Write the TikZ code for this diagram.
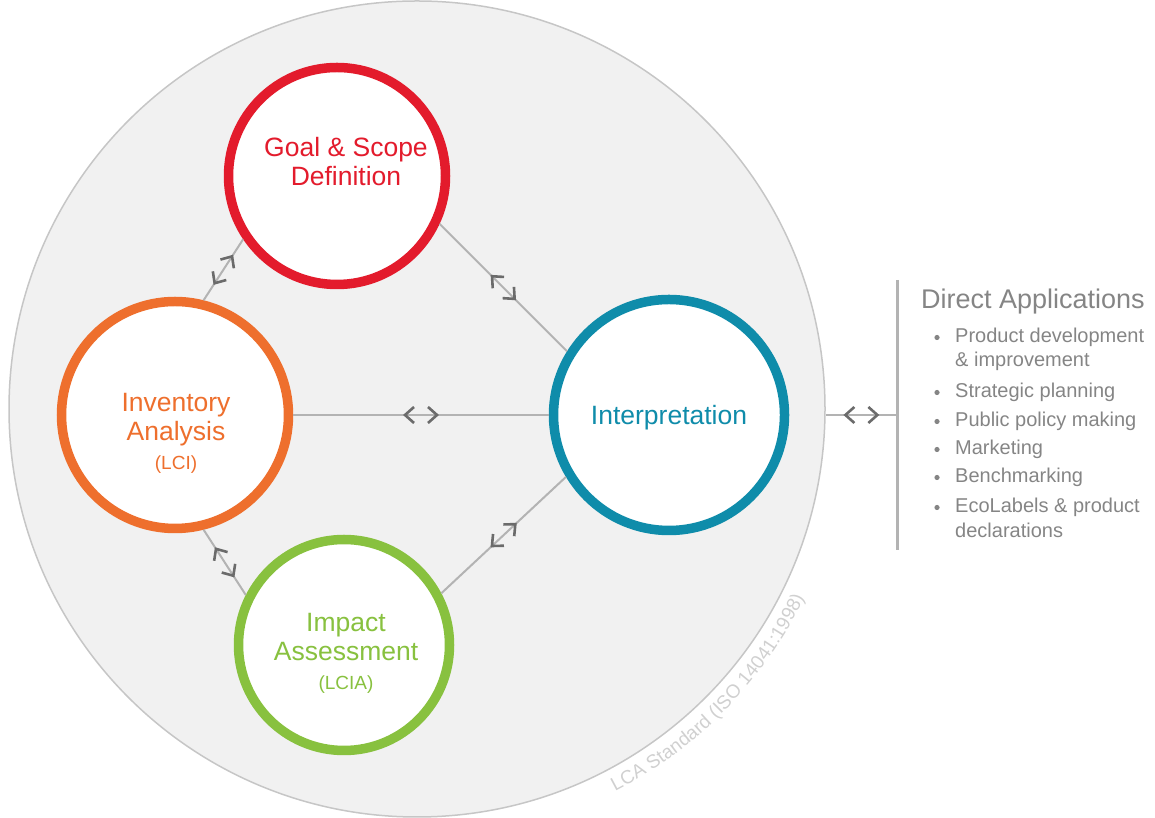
\documentclass[tikz,border=0pt]{standalone}
\usepackage{fontspec}
\setmainfont{Liberation Sans}
\usepackage{xcolor}
\usetikzlibrary{arrows,positioning,calc,decorations.markings,decorations.text}
\definecolor{goalred}{HTML}{E31B2C}
\definecolor{invorange}{HTML}{EE6F2D}
\definecolor{interpteal}{HTML}{0F8CAA}
\definecolor{impactgreen}{HTML}{88C13F}
\definecolor{lcafill}{HTML}{F1F1F1}
\definecolor{lcaedge}{HTML}{C6C6C6}
\definecolor{linkgray}{HTML}{B3B3B3}
\definecolor{chevgray}{HTML}{6B6B6B}
\definecolor{apptext}{HTML}{858585}
\definecolor{arcgray}{HTML}{D0D0D0}

\begin{document}
\begin{tikzpicture}[x=1pt,y=1pt,
  phase node/.style={circle,draw,fill=white,line width=9.5pt,inner sep=0pt},
  phase text/.style={align=center,font=\fontsize{26.5}{29}\selectfont},
  link/.style={draw=linkgray,line width=2pt},
  twoway/.style={postaction={decorate,decoration={markings,mark=at position 0.5 with {%
    \draw[chevgray,line width=2.6pt] (-7,8) -- (-16,0) -- (-7,-8);
    \draw[chevgray,line width=2.6pt] (7,8) -- (16,0) -- (7,-8);}}}},
  app item/.style={anchor=base west,text=apptext,font=\fontsize{20}{24}\selectfont,inner sep=0pt}]
\useasboundingbox (0,0) rectangle (1155,818);
\node[circle,draw=lcaedge,fill=lcafill,line width=1.5pt,minimum size=816pt,inner sep=0pt] (lca) at (417,409) {};
\path[decorate,decoration={text along path,text align=center,
  text={|\fontsize{19}{20}\selectfont\color{arcgray}|LCA Standard (ISO 14041:1998)}}]
  ([shift={(-65.3:431)}]lca.center) arc[start angle=-65.3,end angle=-23.3,radius=431];
\begin{scope}
\node[phase node,draw=goalred,minimum size=217pt] (goal) at (337,642) {};
\node[phase node,draw=invorange,minimum size=227pt] (inv) at (175,403) {};
\node[phase node,draw=interpteal,minimum size=231pt] (interp) at (669,403) {};
\node[phase node,draw=impactgreen,minimum size=211pt] (impact) at (344,173) {};
\end{scope}
\begin{scope}[every node/.style={phase text}]
\node[text=goalred] (goallbl) at ([shift={(9,14)}]goal.center) {Goal \& Scope\\Definition};
\node[text=invorange] (invlbl) at ([shift={(1,-18)}]inv.center) {Inventory\\Analysis\\{\fontsize{19}{22}\selectfont(LCI)}};
\node[text=interpteal] (interplbl) at ([shift={(0,-3)}]interp.center) {Interpretation};
\node[text=impactgreen] (impactlbl) at ([shift={(2,-8)}]impact.center) {Impact\\Assessment\\{\fontsize{19}{22}\selectfont(LCIA)}};
\end{scope}
\draw[link,twoway] (inv.76) -- (goal.214);
\draw[link,twoway] (goal.-25) -- (interp.148);
\draw[link,twoway] (inv) -- (interp);
\draw[link,twoway] (interp.211) -- (impact.28);
\draw[link,twoway] (inv.-76) -- (impact.153);
% direct applications
\coordinate (appin) at (lca.east |- interp.center);
\coordinate (bartop) at (897,538);
\coordinate (barbot) at (897,268);
\coordinate (barmid) at (bartop |- interp.center);
\draw[link,twoway] (appin) -- (barmid);
\draw[draw=linkgray,line width=3pt] (bartop) -- (barbot);
\node[anchor=base west,text=apptext,font=\fontsize{27}{30}\selectfont,inner sep=0pt] (apphead) at (921,509) {Direct Applications};
\foreach \yy/\txt/\bul [count=\i] in {343/Product development/1,367/\& improvement/0,398/Strategic planning/1,
    427/Public policy making/1,455/Marketing/1,483/Benchmarking/1,513/EcoLabels \& product/1,538/declarations/0}
{
  \node[app item] (app\i) at (955,818-\yy) {\txt};
  \ifnum\bul=1 \fill[apptext] (937,823.5-\yy) circle (2.6); \fi
}
\end{tikzpicture}
\end{document}
